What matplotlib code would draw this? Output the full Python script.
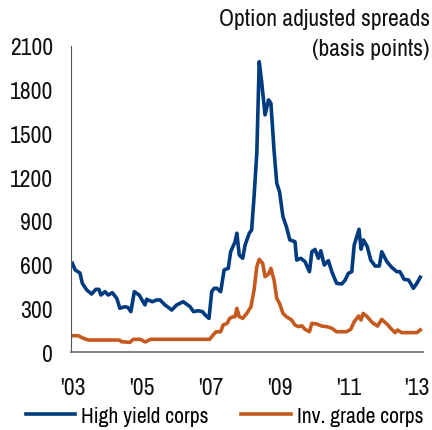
import matplotlib
matplotlib.use('Agg')
import matplotlib.pyplot as plt
from matplotlib import font_manager

# spreads (decimal year, basis points)
hy_dates = [2002.98, 2003.06, 2003.20, 2003.27, 2003.40, 2003.54, 2003.66, 2003.75, 2003.81, 2003.93,
            2004.02, 2004.14, 2004.27, 2004.36, 2004.51, 2004.60, 2004.68, 2004.78, 2004.92, 2005.09,
            2005.14, 2005.30, 2005.43, 2005.53, 2005.67, 2005.87, 2006.01, 2006.20, 2006.40, 2006.50,
            2006.64, 2006.76, 2006.84, 2006.95, 2007.03, 2007.10, 2007.18, 2007.29, 2007.39, 2007.51,
            2007.58, 2007.71, 2007.76, 2007.83, 2007.93, 2008.00, 2008.12, 2008.19, 2008.26, 2008.34,
            2008.41, 2008.48, 2008.58, 2008.68, 2008.75, 2008.84, 2008.92, 2009.00, 2009.10, 2009.20,
            2009.30, 2009.45, 2009.50, 2009.62, 2009.74, 2009.87, 2009.94, 2010.03, 2010.13, 2010.20,
            2010.30, 2010.42, 2010.52, 2010.66, 2010.81, 2010.91, 2011.00, 2011.10, 2011.17, 2011.31,
            2011.37, 2011.44, 2011.55, 2011.65, 2011.78, 2011.90, 2011.97, 2012.12, 2012.26, 2012.41,
            2012.50, 2012.62, 2012.75, 2012.82, 2012.89, 2012.99, 2013.09]
hy_values = [609, 563, 542, 471, 425, 398, 430, 430, 391, 414,
             391, 407, 368, 300, 311, 305, 277, 414, 391, 323,
             362, 345, 357, 357, 323, 288, 323, 345, 311, 277,
             283, 277, 254, 231, 414, 437, 437, 414, 563, 574,
             688, 757, 815, 666, 643, 734, 815, 837, 1066, 1364,
             1992, 1855, 1627, 1730, 1707, 1386, 1158, 1100, 929, 860,
             769, 757, 631, 643, 620, 551, 688, 704, 643, 695,
             597, 627, 551, 471, 467, 494, 540, 551, 734, 842,
             705, 769, 723, 631, 590, 590, 688, 620, 581, 551,
             551, 499, 494, 467, 437, 471, 513]

ig_dates = [2002.98, 2003.15, 2003.30, 2003.45, 2004.35, 2004.40, 2004.65, 2004.75, 2004.95, 2005.10,
            2005.25, 2006.97, 2007.07, 2007.16, 2007.29, 2007.36, 2007.48, 2007.55, 2007.65, 2007.71,
            2007.76, 2007.83, 2007.93, 2008.05, 2008.17, 2008.26, 2008.34, 2008.41, 2008.51, 2008.58,
            2008.68, 2008.75, 2008.84, 2008.92, 2009.00, 2009.10, 2009.20, 2009.35, 2009.45, 2009.55,
            2009.65, 2009.74, 2009.87, 2009.94, 2010.08, 2010.23, 2010.37, 2010.52, 2010.66, 2010.81,
            2010.95, 2011.07, 2011.17, 2011.30, 2011.37, 2011.43, 2011.55, 2011.70, 2011.85, 2011.97,
            2012.12, 2012.26, 2012.36, 2012.43, 2012.55, 2012.99, 2013.09]
ig_values = [112, 112, 94, 82, 82, 71, 66, 87, 87, 69,
             87, 87, 117, 139, 139, 185, 197, 231, 242, 242,
             300, 242, 231, 265, 311, 425, 585, 636, 609, 517,
             535, 574, 494, 368, 334, 265, 242, 220, 185, 174,
             180, 156, 139, 197, 192, 178, 174, 163, 139, 139,
             139, 156, 208, 247, 220, 265, 242, 201, 178, 224,
             192, 156, 133, 151, 133, 133, 151]

y_ticks = [0, 300, 600, 900, 1200, 1500, 1800, 2100]
x_ticks = [2003, 2005, 2007, 2009, 2011, 2013]
x_labels = ["'03", "'05", "'07", "'09", "'11", "'13"]

# narrow font like the original; fall back if not there
names = {f.name for f in font_manager.fontManager.ttflist}
fam = next((n for n in ['Archivo Narrow', 'Roboto Condensed', 'Liberation Sans'] if n in names), 'DejaVu Sans')
plt.rcParams['font.family'] = [fam, 'DejaVu Sans']

blue = '#003B80'
orange = '#C55A1E'

fig = plt.figure(figsize=(4.32, 4.31), dpi=100)
ax = fig.add_axes([71 / 432, 1 - 353 / 431, 352 / 432, 306 / 431])

ax.plot(hy_dates, hy_values, color=blue, lw=2.6, solid_joinstyle='round', label='High yield corps')
ax.plot(ig_dates, ig_values, color=orange, lw=2.6, solid_joinstyle='round', label='Inv. grade corps')

ax.set_xlim(2002.94, 2013.17)
ax.set_ylim(0, 2100)
ax.set_yticks(y_ticks)
ax.set_xticks(x_ticks)
ax.set_xticklabels(x_labels)
ax.tick_params(length=0, labelsize=17, colors='#111111')
ax.tick_params(axis='y', pad=13)
ax.tick_params(axis='x', pad=18)
for s in ['top', 'right']:
    ax.spines[s].set_visible(False)
ax.spines['left'].set_color('#555555')
ax.spines['bottom'].set_color('#777777')
ax.spines['bottom'].set_linewidth(1.3)

fig.text(0.995, 0.978, 'Option adjusted spreads\n(basis points)', ha='right', va='top',
         fontsize=17, fontweight='medium', linespacing=1.5, color='#111111')

fig.legend(loc='lower center', bbox_to_anchor=(0.52, -0.035), ncol=2, frameon=False,
           fontsize=15.5, handlelength=2.3, handletextpad=0.3, columnspacing=1.5)

fig.savefig('out.png', dpi=100)
